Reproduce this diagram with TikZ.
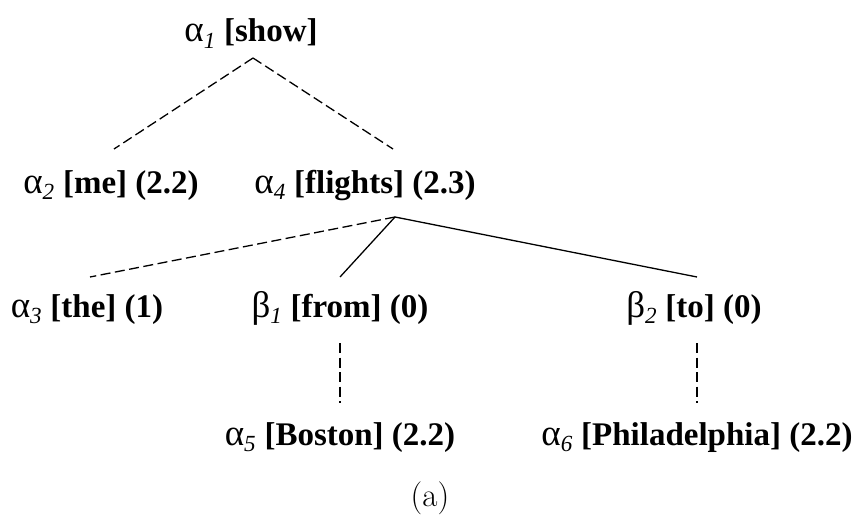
\documentclass[tikz,border=0pt]{standalone}
\usepackage{fontspec}
\setmainfont{Liberation Serif}
\newfontfamily\lmfont{Latin Modern Roman}
\begin{document}
\begin{tikzpicture}[x=1pt,y=-1pt,
  lbl/.style={anchor=base,inner sep=0pt,font=\fontsize{33}{40}\selectfont},
  edge/.style={line width=1.3pt},
  dedge/.style={line width=1.3pt,dash pattern=on 10pt off 4.5pt}]
\useasboundingbox (0,0) rectangle (859,519);
\newcommand{\gsub}[2]{{\fontsize{37}{40}\selectfont #1}\textsubscript{\itshape #2}}
\node[lbl] (a1) at (251,42) {\gsub{α}{1} \textbf{[show]}};
\node[lbl] (a2) at (111,193) {\gsub{α}{2} \textbf{[me] (2.2)}};
\node[lbl] (a4) at (365,193) {\gsub{α}{4} \textbf{[flights] (2.3)}};
\node[lbl] (a3) at (87,317) {\gsub{α}{3} \textbf{[the] (1)}};
\node[lbl] (b1) at (340,317) {\gsub{β}{1} \textbf{[from] (0)}};
\node[lbl] (b2) at (694,317) {\gsub{β}{2} \textbf{[to] (0)}};
\node[lbl] (a5) at (340,445) {\gsub{α}{5} \textbf{[Boston] (2.2)}};
\node[lbl] (a6) at (697,445) {\gsub{α}{6} \textbf{[Philadelphia] (2.2)}};
\node[lbl,font=\lmfont\fontsize{33}{40}\selectfont] (cap) at (430,506) {(a)};
\coordinate (t1) at (253,58);
\coordinate (e2) at (114,149);
\coordinate (e4) at (393,149);
\coordinate (t4) at (395,217);
\coordinate (e3) at (90,277);
\coordinate (eb1) at (340,277);
\coordinate (eb2) at (697,277);
\coordinate (sb1) at (340,343);
\coordinate (ea5) at (340,403);
\coordinate (sb2) at (697,343);
\coordinate (ea6) at (697,403);
\draw[dedge] (t1) -- (e2);
\draw[dedge] (t1) -- (e4);
\draw[dedge] (t4) -- (e3);
\draw[edge] (t4) -- (eb1);
\draw[edge] (t4) -- (eb2);
\draw[dedge] (sb1) -- (ea5);
\draw[dedge] (sb2) -- (ea6);
\end{tikzpicture}
\end{document}
